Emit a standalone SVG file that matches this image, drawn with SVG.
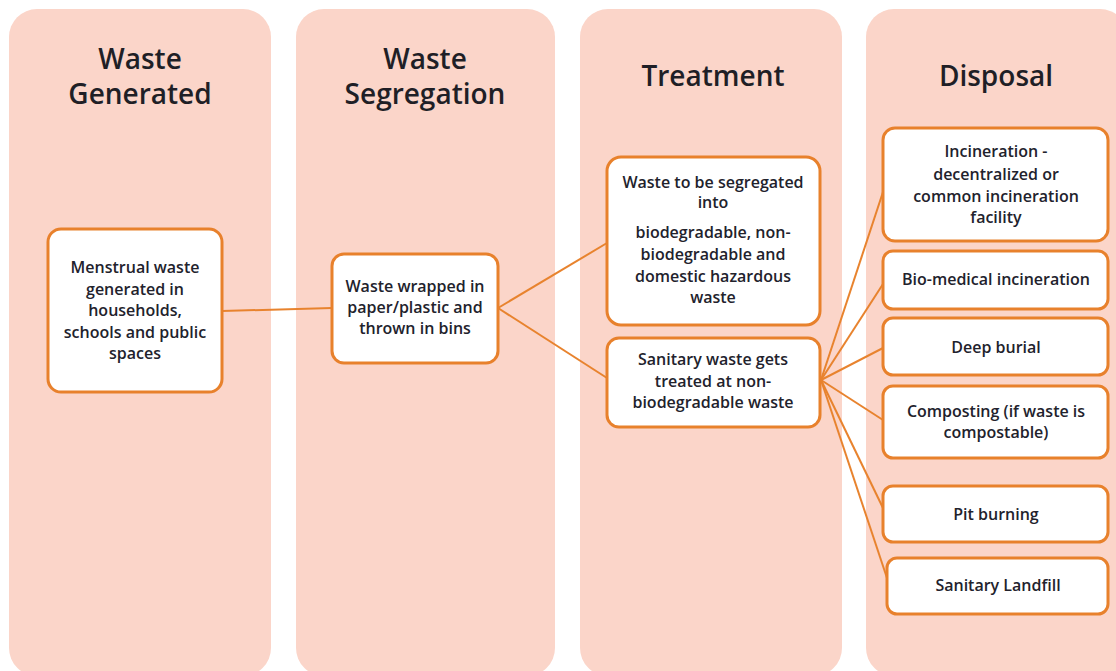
<svg xmlns="http://www.w3.org/2000/svg" width="1116" height="671" viewBox="0 0 1116 671">
<style>
.col{fill:#FBD5C9;}
.title{font-family:"Open Sans","Liberation Sans",sans-serif;font-size:28px;font-weight:600;fill:#1f1f26;text-anchor:middle;}
.box{fill:#ffffff;stroke:#E8812C;stroke-width:3;}
.t{font-family:"Open Sans","Liberation Sans",sans-serif;font-size:16px;font-weight:600;fill:#22222c;text-anchor:middle;}
.conn line{stroke:#E8832E;stroke-width:2;}
</style>
<rect width="1116" height="671" fill="#ffffff"/>
<g id="col-generated"><rect class="col" x="9" y="9" width="262" height="667" rx="28"/>
<text class="title" x="140" y="69">Waste</text><text class="title" x="140" y="104">Generated</text></g>
<g id="col-segregation"><rect class="col" x="296" y="9" width="259" height="667" rx="28"/>
<text class="title" x="425" y="69">Waste</text><text class="title" x="425" y="104">Segregation</text></g>
<g id="col-treatment"><rect class="col" x="580" y="9" width="262" height="667" rx="28"/>
<text class="title" x="713" y="86">Treatment</text></g>
<g id="col-disposal"><rect class="col" x="866" y="9" width="262" height="667" rx="28"/>
<text class="title" x="996" y="86">Disposal</text></g>

<g class="conn" id="connectors">
<line x1="222" y1="311" x2="332" y2="308"/>
<line x1="498" y1="308" x2="607" y2="243"/>
<line x1="498" y1="308" x2="607" y2="378"/>
<line x1="821" y1="380" x2="883" y2="192"/>
<line x1="821" y1="380" x2="883" y2="284"/>
<line x1="821" y1="380" x2="883" y2="348"/>
<line x1="821" y1="380" x2="883" y2="420"/>
<line x1="821" y1="380" x2="883" y2="508"/>
<line x1="821" y1="380" x2="887" y2="578"/>
</g>

<g id="n-menstrual"><rect class="box" x="48" y="229" width="174" height="163" rx="13"/>
<text class="t" x="135" y="273">Menstrual waste</text>
<text class="t" x="135" y="294.5">generated in</text>
<text class="t" x="135" y="316">households,</text>
<text class="t" x="135" y="337.5">schools and public</text>
<text class="t" x="135" y="359">spaces</text></g>

<g id="n-wrapped"><rect class="box" x="332" y="254" width="166" height="109" rx="12"/>
<text class="t" x="415" y="292">Waste wrapped in</text>
<text class="t" x="415" y="313">paper/plastic and</text>
<text class="t" x="415" y="334">thrown in bins</text></g>

<g id="n-segregate"><rect class="box" x="607" y="157" width="213" height="168" rx="14"/>
<text class="t" x="713" y="188">Waste to be segregated</text>
<text class="t" x="713" y="208">into</text>
<text class="t" x="713" y="238">biodegradable, non-</text>
<text class="t" x="713" y="260">biodegradable and</text>
<text class="t" x="713" y="282">domestic hazardous</text>
<text class="t" x="713" y="303">waste</text></g>

<g id="n-sanitary"><rect class="box" x="607" y="338" width="213" height="89" rx="12"/>
<text class="t" x="713" y="365">Sanitary waste gets</text>
<text class="t" x="713" y="387">treated at non-</text>
<text class="t" x="713" y="408">biodegradable waste</text></g>

<g id="n-incineration"><rect class="box" x="883" y="128" width="225" height="113" rx="12"/>
<text class="t" x="996" y="157">Incineration -</text>
<text class="t" x="996" y="180">decentralized or</text>
<text class="t" x="996" y="202">common incineration</text>
<text class="t" x="996" y="223">facility</text></g>

<g id="n-biomedical"><rect class="box" x="883" y="251" width="225" height="58" rx="10"/>
<text class="t" x="996" y="285">Bio-medical incineration</text></g>

<g id="n-deepburial"><rect class="box" x="883" y="318" width="225" height="57" rx="10"/>
<text class="t" x="996" y="353">Deep burial</text></g>

<g id="n-composting"><rect class="box" x="883" y="386" width="225" height="72" rx="10"/>
<text class="t" x="996" y="417">Composting (if waste is</text>
<text class="t" x="996" y="438">compostable)</text></g>

<g id="n-pitburning"><rect class="box" x="883" y="486" width="225" height="56" rx="10"/>
<text class="t" x="996" y="520">Pit burning</text></g>

<g id="n-landfill"><rect class="box" x="887" y="558" width="221" height="56" rx="10"/>
<text class="t" x="998" y="591">Sanitary Landfill</text></g>
</svg>
